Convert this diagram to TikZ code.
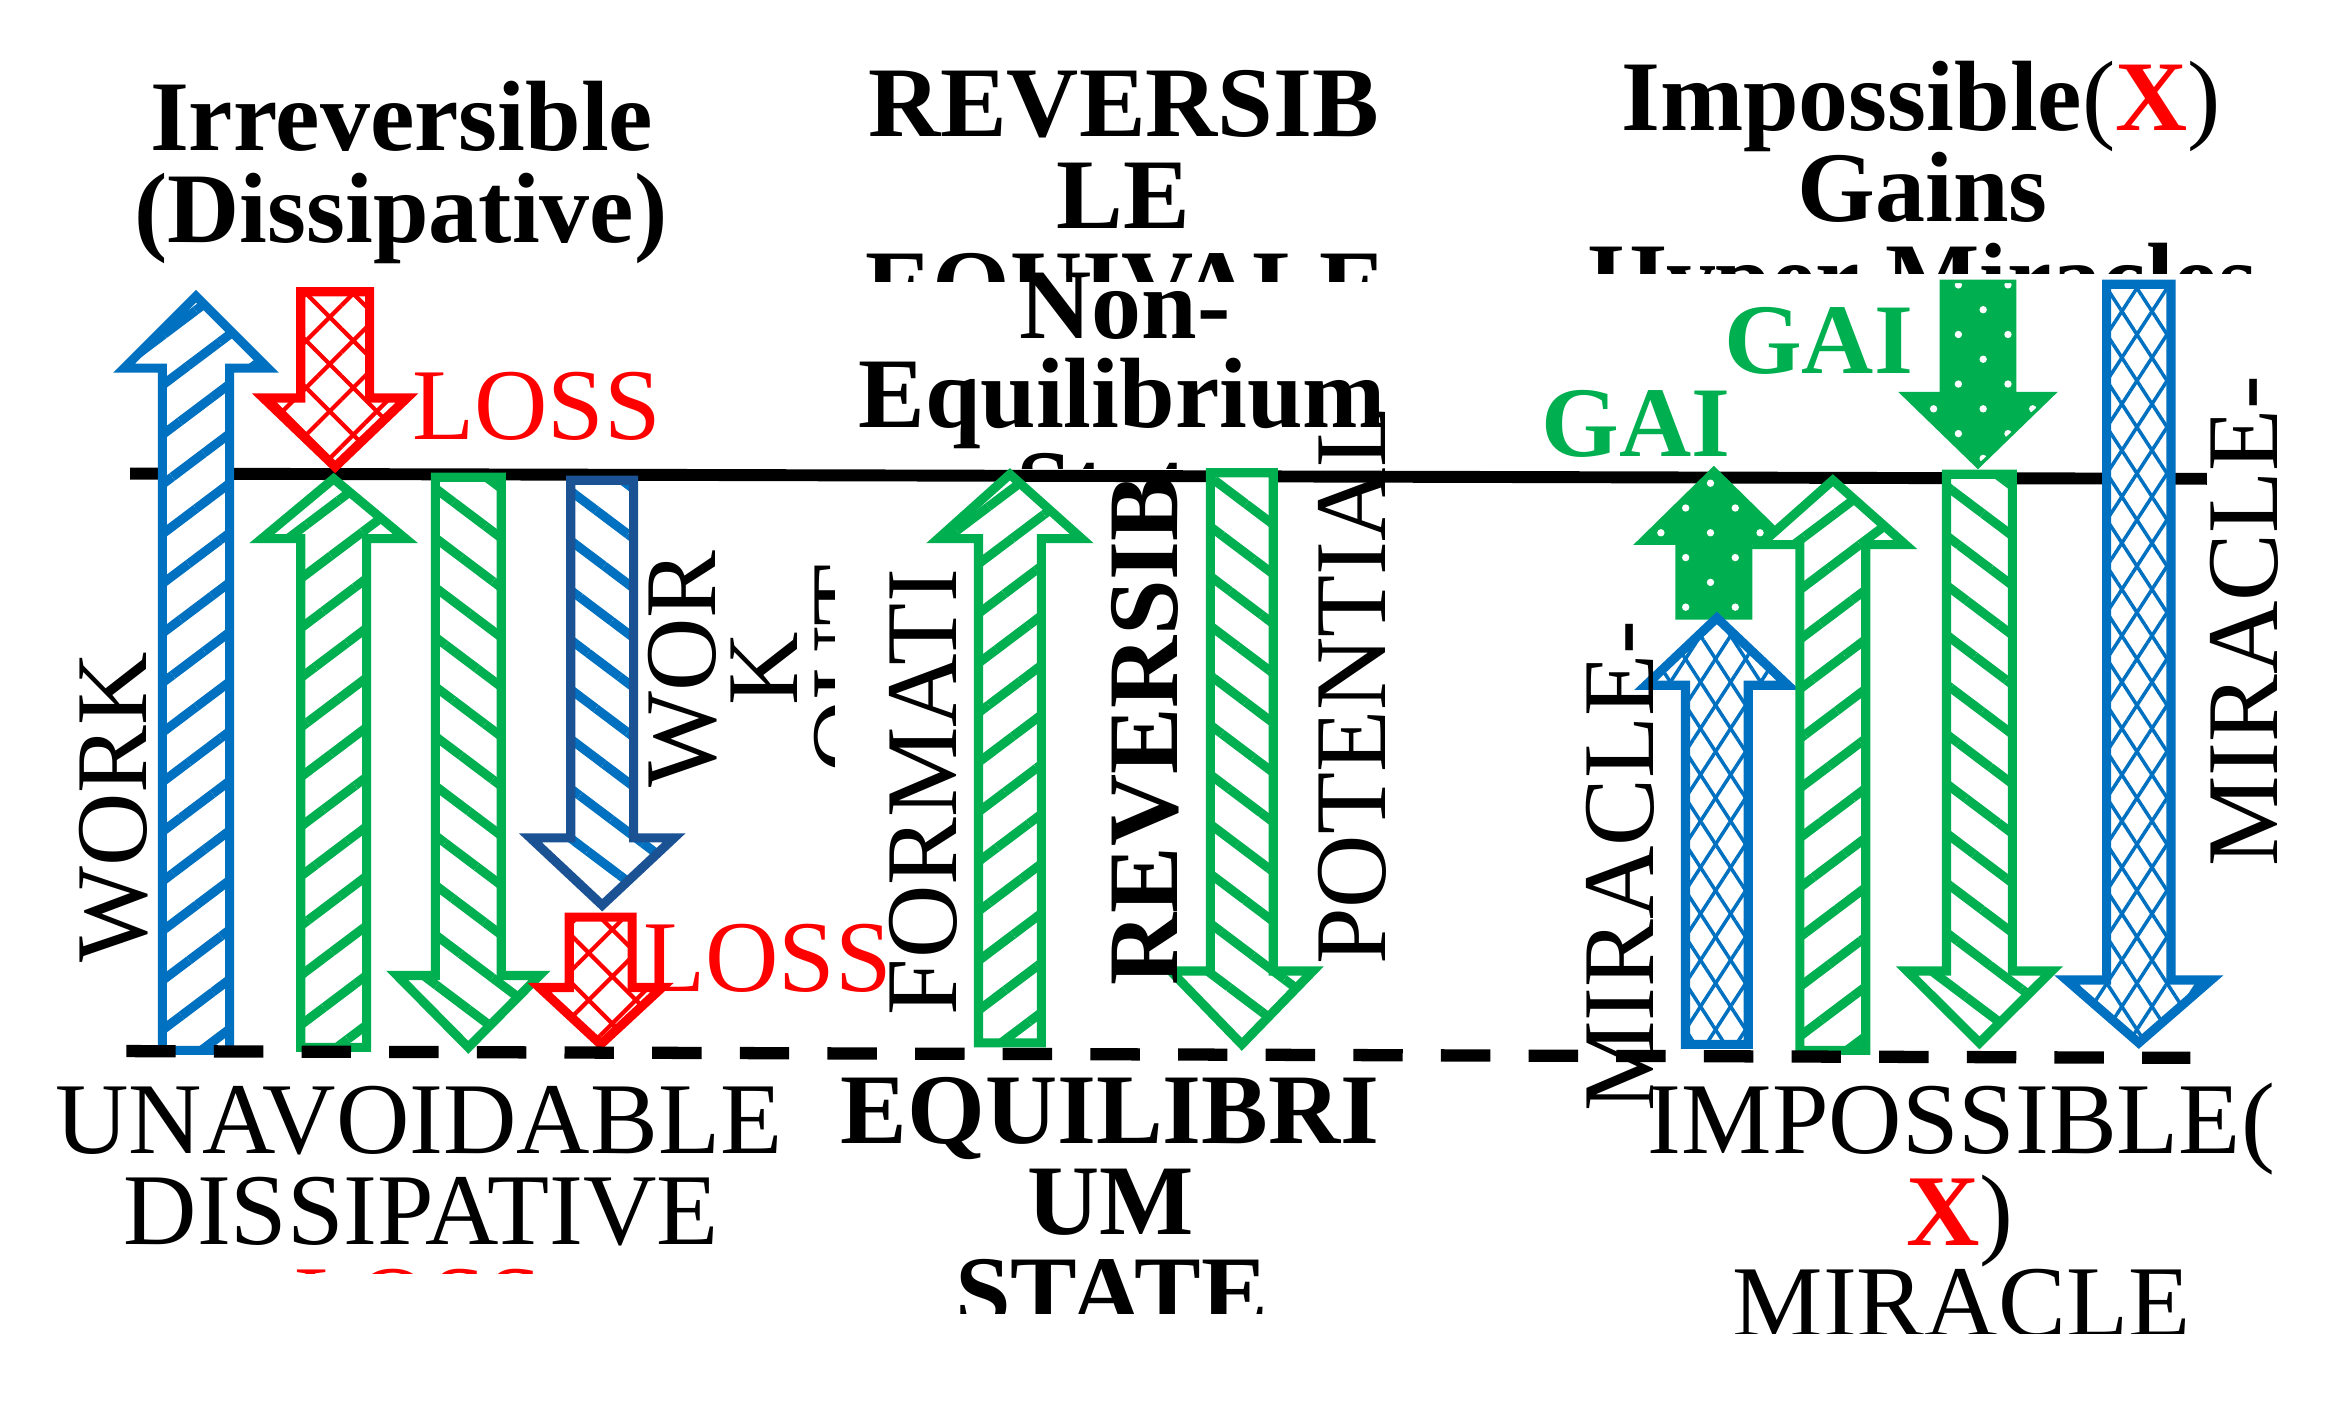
\documentclass[tikz,border=0pt]{standalone}
\usepackage{fontspec}
\setmainfont{Liberation Serif}
\usetikzlibrary{patterns.meta}
\definecolor{cblue}{HTML}{0070C0}
\definecolor{cdblue}{HTML}{1A5294}
\definecolor{cgreen}{HTML}{00B050}
\definecolor{cred}{HTML}{FF0000}
% #1 style, #2 centre x, #3 tail y, #4 head base y, #5 tip y, #6 shaft half width, #7 head half width
\newcommand\blockarrow[7]{%
  \path[#1] ({#2-#6},#3) -- ({#2-#6},#4) -- ({#2-#7},#4) -- (#2,#5) -- ({#2+#7},#4)
    -- ({#2+#6},#4) -- ({#2+#6},#3) -- cycle;}
\tikzset{
  arr/.style={line width=2.6pt, line join=miter, preaction={fill=white}},
  neb/.style={arr, draw=cblue, pattern={Lines[angle=37,distance=11.3pt,line width=2.6pt]}, pattern color=cblue},
  neg/.style={arr, draw=cgreen, pattern={Lines[angle=37,distance=11.3pt,line width=2.6pt]}, pattern color=cgreen},
  nwg/.style={arr, draw=cgreen, pattern={Lines[angle=-37,distance=11.3pt,line width=2.6pt]}, pattern color=cgreen},
  nwdb/.style={arr, draw=cdblue, pattern={Lines[angle=-37,distance=11.3pt,line width=2.6pt]}, pattern color=cblue},
  redx/.style={arr, draw=cred, pattern={Hatch[angle=45,distance=9.5pt,line width=1.2pt]}, pattern color=cred},
  bx/.style={arr, draw=cblue,
    preaction={pattern={Lines[angle=57,distance=7.2pt,line width=1pt]}, pattern color=cblue},
    pattern={Lines[angle=-57,distance=7.2pt,line width=1pt]}, pattern color=cblue},
  gdot/.style={line width=1pt, line join=miter, draw=cgreen, preaction={fill=cgreen},
    pattern={Dots[radius=1.05pt,distance=10pt,angle=45]}, pattern color=white},
  txt/.style={inner sep=0pt, anchor=base, font=\fontsize{29}{26}\selectfont},
  btxt/.style={inner sep=0pt, anchor=base, font=\fontsize{28.5}{26}\selectfont\bfseries},
}
\begin{document}
\begin{tikzpicture}[x=0.015cm,y=-0.015cm]
\useasboundingbox (0,0) rectangle (1568,936);
\fill[white] (0,0) rectangle (1568,936);

% base lines
\coordinate (topL) at (87,316.5);
\coordinate (topR) at (1475,320);
\coordinate (botL) at (84.4,702.5);
\coordinate (botR) at (1464,707);
\draw[line width=3.4pt] (topL) -- (topR);

% arrows, left group
\blockarrow{neb}{131}{702}{246}{198}{22.5}{48}
\blockarrow{redx}{224}{195}{266}{312}{23}{48}
\blockarrow{neg}{223}{700}{360}{320}{22}{48}
\blockarrow{nwg}{313}{319}{652}{700}{22}{47.5}
\blockarrow{nwdb}{402.5}{321}{560}{605}{21}{48}
\blockarrow{redx}{401.5}{613}{660}{698}{21}{41}
% middle group
\blockarrow{neg}{675}{697}{360}{317}{21}{48}
\blockarrow{nwg}{830}{316}{649}{698}{21}{47.5}
% right group
\blockarrow{gdot}{1145.5}{413}{363}{313}{24.5}{51}
\blockarrow{bx}{1147.5}{698}{458}{413}{21}{47.5}
\blockarrow{neg}{1225}{702}{364}{321}{22}{48.5}
\blockarrow{gdot}{1322}{188}{263}{312}{24.5}{50.5}
\blockarrow{nwg}{1323}{317}{649}{697}{22}{48.3}
\blockarrow{bx}{1429.5}{190}{655}{697}{21.5}{48.3}

\draw[line width=3.5pt, dash pattern=on 14.1pt off 10.9pt] (botL) -- (botR);

% titles
\node[btxt] (irr) at (268.4,100.3) {Irreversible};
\node[btxt] (dis) at (268,161.8) {(Dissipative)};
\node[btxt] (rev1) at (751,91.5) {REVERSIB};
\node[btxt] (rev2) at (751,152.6) {LE};
\begin{scope}
  \clip (500,140) rectangle (1000,188);
  \node[btxt] (rev3) at (752.5,213.6) {EQUIVALE};
\end{scope}
\node[btxt] (neq1) at (752,226) {Non-};
\node[btxt] (neq2) at (750,286) {Equilibrium};
\begin{scope}
  \clip (600,290) rectangle (900,313);
  \node[btxt] (neq3) at (752,347) {State};
\end{scope}
\node[btxt] (imp1) at (1284,86.9) {Impossible{\mdseries(}\textcolor{cred}{X}{\mdseries)}};
\node[btxt] (imp2) at (1285,148.2) {Gains};
\begin{scope}
  \clip (1000,140) rectangle (1568,183);
  \node[btxt] (imp3) at (1285,209) {Hyper Miracles};
\end{scope}
\node[btxt, text=cgreen] (gai1) at (1215.5,249.5) {GAI};
\node[btxt, text=cgreen] (gai2) at (1093.5,305) {GAI};

% loss labels
\node[txt, text=cred] (loss1) at (358.5,294) {LOSS};
\node[txt, text=cred] (loss2) at (513,663) {LOSS};

% bottom labels
\node[txt] (un1) at (280,771) {UNAVOIDABLE};
\node[txt] (un2) at (281.5,832) {DISSIPATIVE};
\begin{scope}
  \clip (0,835) rectangle (600,851);
  \node[txt, text=cred] (un3) at (280,893) {LOSS};
\end{scope}
\node[btxt] (eq1) at (742,764.2) {EQUILIBRI};
\node[btxt] (eq2) at (742.5,825) {UM};
\begin{scope}
  \clip (550,835) rectangle (950,878);
  \node[btxt] (eq3) at (743,886) {STATE};
\end{scope}
\node[txt] (im1) at (1311,771) {IMPOSSIBLE(};
\node[txt] (im2) at (1310,832.2) {\textcolor{cred}{\bfseries X})};
\begin{scope}
  \clip (1100,835) rectangle (1568,891);
  \node[txt] (im3) at (1311,893) {MIRACLE};
\end{scope}

% rotated labels
\node[txt, rotate=90] (work) at (98,539.5) {WORK};
\node[txt, rotate=90] (wo1) at (478,447) {WOR};
\node[txt, rotate=90] (wo2) at (533,447) {K};
\begin{scope}
  \clip (530,300) rectangle (558,700);
  \node[txt, rotate=90] (wo3) at (589,447) {OUT};
\end{scope}
\node[txt, rotate=90] (form) at (639,529.5) {FORMATI};
\node[btxt, rotate=90] (revv) at (787,488) {REVERSIB};
\node[txt, rotate=90] (pot) at (926,458) {POTENTIAL};
\node[txt, rotate=90] (mir1) at (1105,579) {MIRACLE-};
\node[txt, rotate=90] (mir2) at (1522,415) {MIRACLE-};
\end{tikzpicture}
\end{document}
